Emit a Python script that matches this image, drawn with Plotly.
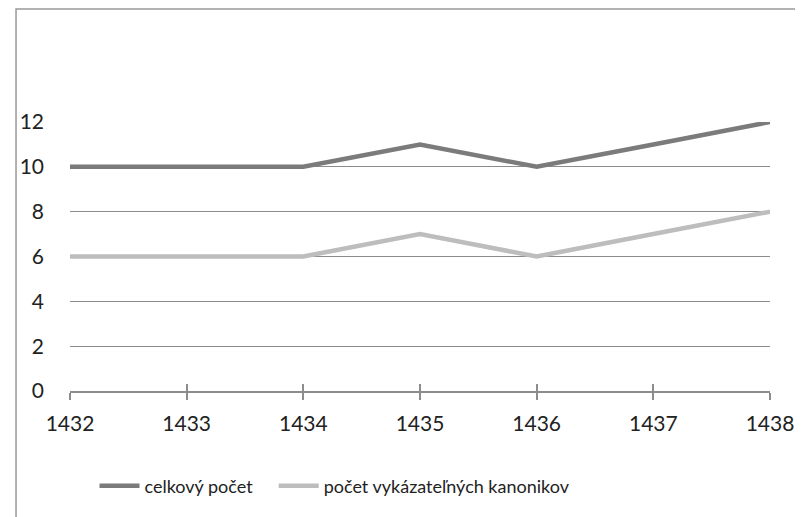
import plotly.graph_objects as go

years = [1432, 1433, 1434, 1435, 1436, 1437, 1438]
celkovy = [10, 10, 10, 11, 10, 11, 12]
kanonikov = [6, 6, 6, 7, 6, 7, 8]
series_names = ["celkový počet", "počet vykázateľných kanonikov"]
y_ticks = [0, 2, 4, 6, 8, 10, 12]

FONT = "Lato, 'Open Sans', sans-serif"

fig = go.Figure()
fig.add_trace(go.Scatter(x=years, y=celkovy, mode="lines", name=series_names[0],
                         line=dict(color="#7b7b7b", width=4.5), legend="legend"))
fig.add_trace(go.Scatter(x=years, y=kanonikov, mode="lines", name=series_names[1],
                         line=dict(color="#bdbdbd", width=4.5), legend="legend2"))
# invisible trace on overlay axis for upward ticks
fig.add_trace(go.Scatter(x=years, y=celkovy, mode="lines", xaxis="x2", yaxis="y",
                         line=dict(width=0), showlegend=False, hoverinfo="skip",
                         opacity=0))

legend_common = dict(orientation="h", y=-0.353, xanchor="left", yanchor="middle",
                     font=dict(family=FONT, size=18, color="#222222"),
                     bgcolor="rgba(0,0,0,0)", itemwidth=40)

fig.update_layout(
    width=803, height=517,
    margin=dict(l=55, r=41, t=114, b=134),
    paper_bgcolor="white", plot_bgcolor="white",
    font=dict(family=FONT, size=20, color="#222222"),
    xaxis=dict(range=[1432, 1438], tickmode="array", tickvals=years,
               ticktext=[str(y) for y in years],
               showgrid=False, zeroline=False, showline=True,
               linecolor="#8c8c8c", linewidth=1.5,
               ticks="outside", ticklen=7, tickwidth=1.5, tickcolor="#8c8c8c",
               ticklabelstandoff=6,
               tickfont=dict(family=FONT, size=21, color="#222222")),
    xaxis2=dict(range=[1432, 1438], overlaying="x", tickmode="array", tickvals=years,
                showticklabels=False, showgrid=False, zeroline=False, showline=False,
                ticks="inside", ticklen=7, tickwidth=1.5, tickcolor="#8c8c8c",
                side="bottom", anchor="y"),
    yaxis=dict(range=[0, 12], tickmode="array", tickvals=y_ticks,
               showgrid=True, gridcolor="#8c8c8c", gridwidth=1,
               zeroline=False, showline=False, ticks="",
               ticklabelstandoff=25,
               tickfont=dict(family=FONT, size=21, color="#222222")),
    legend=dict(x=0.035, **legend_common),
    legend2=dict(x=0.291, **legend_common),
    showlegend=True,
    shapes=[dict(type="rect", xref="paper", yref="paper",
                 x0=-0.0771, x1=1.2, y0=-1.0, y1=1.42,
                 line=dict(color="#999999", width=1.5), fillcolor="rgba(0,0,0,0)",
                 layer="below")],
)

fig.write_html("out.html")
